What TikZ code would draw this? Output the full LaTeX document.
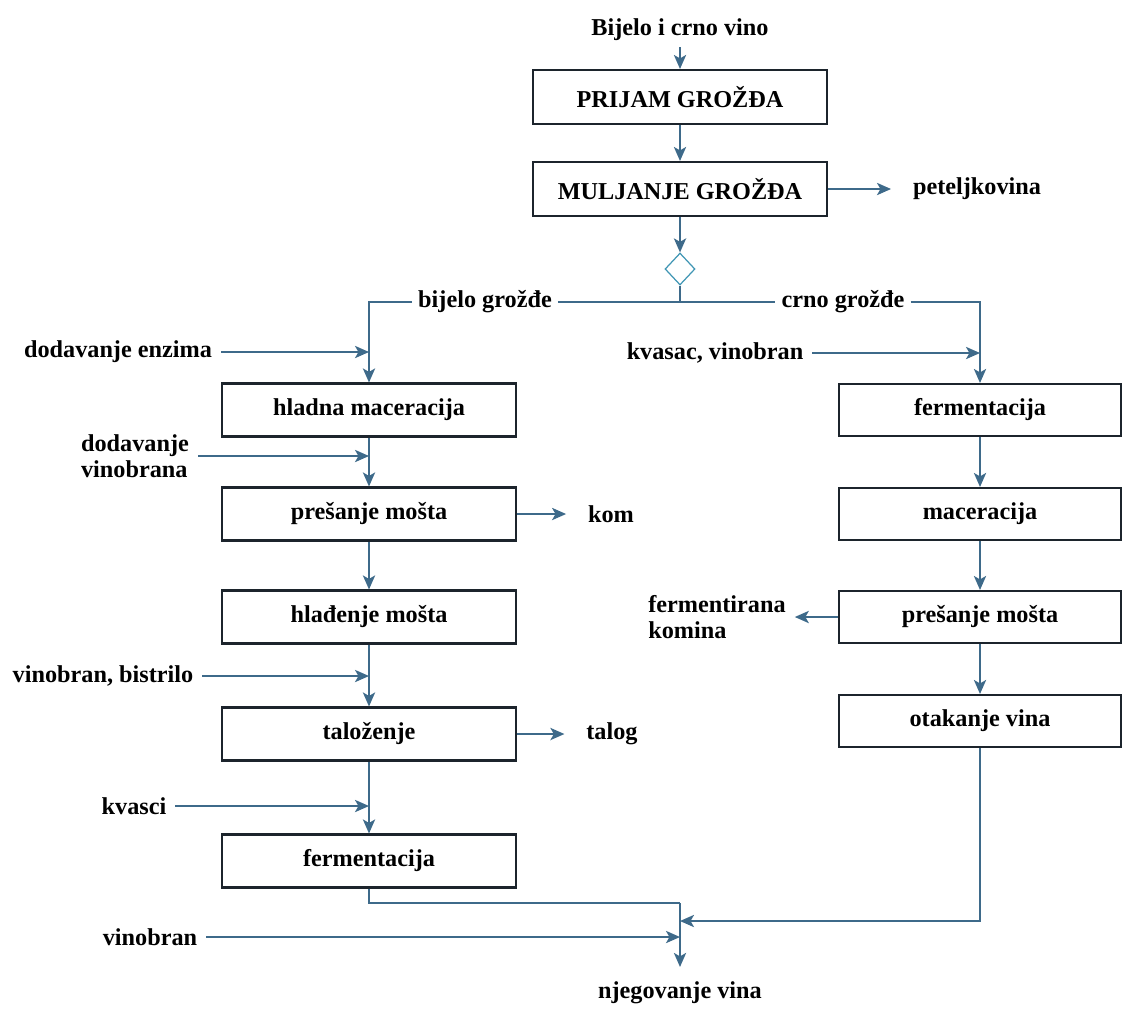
\documentclass[tikz,border=0pt]{standalone}
\usepackage{fontspec}
\setmainfont{Liberation Serif}
\usetikzlibrary{arrows.meta,shapes.geometric}

\definecolor{flowblue}{RGB}{62,106,138}
\definecolor{boxedge}{RGB}{28,36,44}
\definecolor{splitblue}{RGB}{64,150,180}

\begin{document}
\begin{tikzpicture}[x=0.02cm, y=-0.02cm,
	every node/.style={font=\fontsize{13.8}{15}\selectfont\bfseries},
	stage/.style={draw=boxedge, line width=1.2pt, minimum width=5.88cm, minimum height=1.06cm},
	redstage/.style={stage, minimum width=5.64cm, minimum height=1.04cm},
	side/.style={inner sep=5pt, align=left},
	flow/.style={draw=flowblue, line width=0.9pt, -{Stealth[length=8pt, width=7pt, inset=2pt]}},
	link/.style={draw=flowblue, line width=0.9pt}]

	\useasboundingbox (0,0) rectangle (1122,1009);

	% common part
	\node (input) at (680,30) {Bijelo i crno vino};
	\node[stage, minimum height=1.08cm] (prijam) at (680,97) {PRIJAM GROŽĐA};
	\node[stage, minimum height=1.08cm] (mulj) at (680,189) {MULJANJE GROŽĐA};
	\node (stalk) at (977,189) {peteljkovina};
	\node[diamond, draw=splitblue, line width=0.7pt, minimum width=0.6cm, minimum height=0.64cm, inner sep=0pt] (split) at (680,269) {};
	\node (white) at (485,302) {bijelo grožđe};
	\node (red) at (843,302) {crno grožđe};

	% white grapes
	\node[side] (enzyme) at (118,352) {dodavanje enzima};
	\node[stage] (cold) at (369,410) {hladna maceracija};
	\node[side] (sulfA) at (135,456) {dodavanje\\vinobrana};
	\node[stage] (pressW) at (369,514) {prešanje mošta};
	\node (pomace) at (611,514) {kom};
	\node[stage] (chill) at (369,617) {hlađenje mošta};
	\node[side] (clarif) at (103,676) {vinobran, bistrilo};
	\node[stage] (settle) at (369,734) {taloženje};
	\node (lees) at (612,734) {talog};
	\node[side] (yeastW) at (134,806) {kvasci};
	\node[stage] (fermW) at (369,861) {fermentacija};

	% red grapes
	\node[side] (yeastR) at (715,353) {kvasac, vinobran};
	\node[redstage] (fermR) at (980,410) {fermentacija};
	\node[redstage] (macer) at (980,514) {maceracija};
	\node[redstage] (pressR) at (980,617) {prešanje mošta};
	\node[side] (marc) at (717,617) {fermentirana\\komina};
	\node[redstage] (rack) at (980,721) {otakanje vina};

	% end
	\node[side] (sulfB) at (150,937) {vinobran};
	\node (care) at (680,993) {njegovanje vina};
	\coordinate (join) at (680,903);
	\coordinate (joinR) at (680,921);

	\draw[flow] (input) -- (prijam);
	\draw[flow] (prijam) -- (mulj);
	\draw[flow, shorten >=9pt] (mulj) -- (stalk);
	\draw[flow] (mulj) -- (split);
	\draw[link] (split.south) -- (split.south |- white.east);
	\draw[link] (white.east) -- (red.west);
	\draw[flow] (white.west) -| (cold.north);
	\draw[flow] (red.east) -| (fermR.north);

	% white wine line
	\draw[flow] (enzyme.east) -- (enzyme.east -| cold.north);
	\draw[flow] (sulfA.east) -- (sulfA.east -| cold.south);
	\foreach \a/\b in {cold/pressW, pressW/chill, chill/settle, settle/fermW}
		\draw[flow] (\a) -- (\b);
	\draw[flow, shorten >=9pt] (pressW.east) -- (pomace.west);
	\draw[flow] (clarif.east) -- (clarif.east -| settle.north);
	\draw[flow, shorten >=9pt] (settle.east) -- (lees.west);
	\draw[flow] (yeastW.east) -- (yeastW.east -| fermW.north);

	% red wine line
	\draw[flow] (yeastR.east) -- (yeastR.east -| fermR.north);
	\foreach \a/\b in {fermR/macer, macer/pressR, pressR/rack}
		\draw[flow] (\a) -- (\b);
	\draw[flow] (pressR.west) -- (marc.east);

	% both lines meet
	\draw[link] (fermW.south) |- (join);
	\draw[flow, shorten >=5pt] (join) -- (care);
	\draw[flow] (rack.south) |- (joinR);
	\draw[flow] (sulfB.east) -- (sulfB.east -| join);
\end{tikzpicture}
\end{document}
